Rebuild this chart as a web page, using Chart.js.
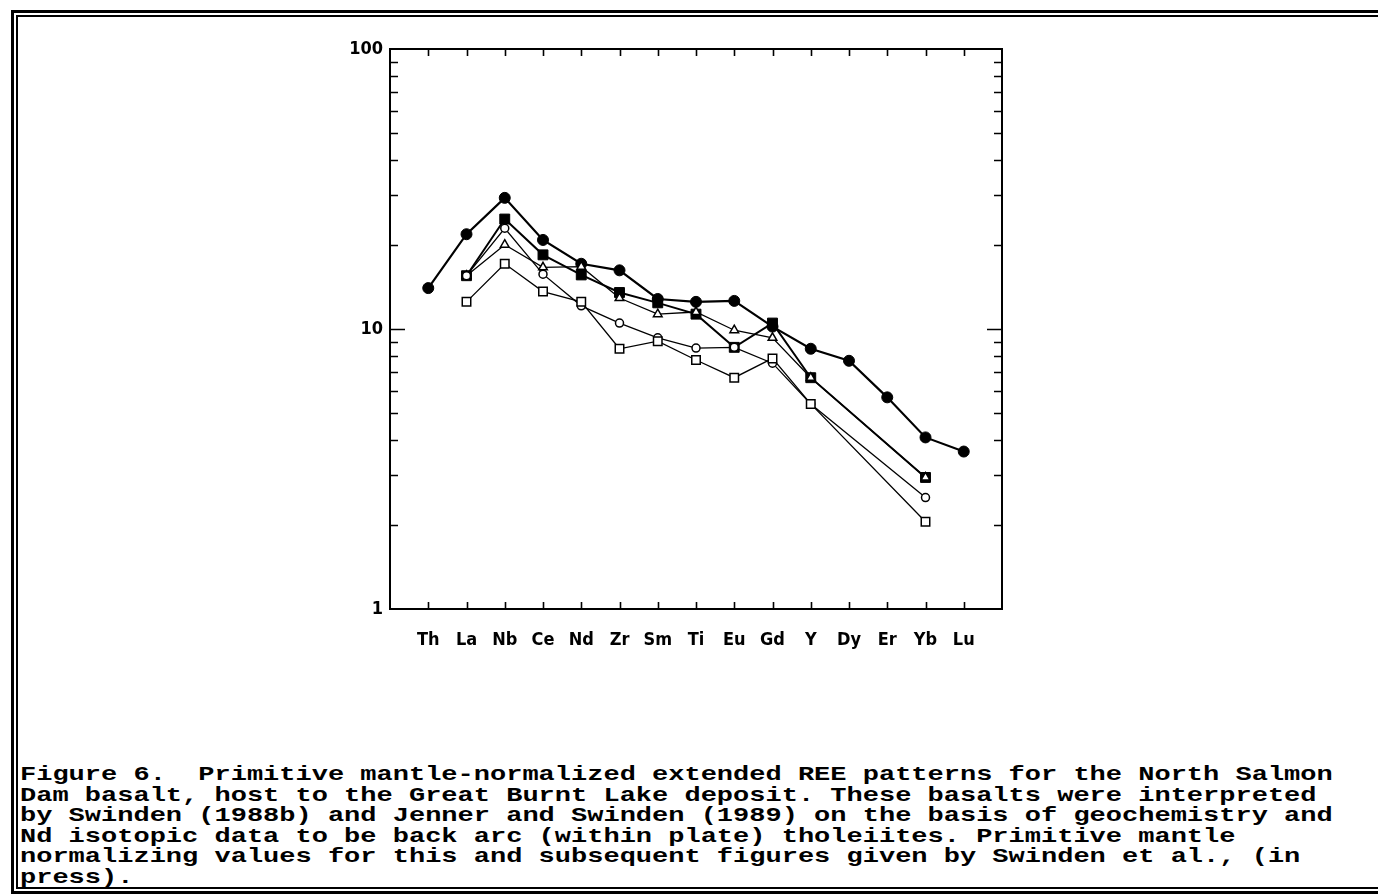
<!DOCTYPE html>
<html>
<head>
<meta charset="utf-8">
<script src="https://cdn.jsdelivr.net/npm/chart.js@4.4.1/dist/chart.umd.min.js"></script>
<style>
  html, body { margin: 0; padding: 0; background: #fff; }
  body { width: 1378px; height: 895px; position: relative; overflow: hidden; }
  #frameOuter { position: absolute; left: 11px; top: 10px; width: 1420px; height: 884px; box-sizing: border-box; border: 3px solid #000; }
  #frameInner { position: absolute; left: 16px; top: 15px; width: 1420px; height: 874px; box-sizing: border-box; border: 2px solid #000; }
  #chartBox { position: absolute; left: 0; top: 0; width: 1378px; height: 700px; }
  #caption { position: absolute; left: 20px; top: 765px; font-family: 'Liberation Mono', 'Courier New', monospace; font-weight: bold; font-size: 21px; line-height: 20.6px; white-space: pre; color: #000; transform: scaleX(1.286); transform-origin: 0 0; }
</style>
</head>
<body>
<div id="frameOuter"></div>
<div id="frameInner"></div>
<div id="chartBox"><canvas id="c"></canvas></div>
<div id="caption">Figure 6.  Primitive mantle-normalized extended REE patterns for the North Salmon
Dam basalt, host to the Great Burnt Lake deposit. These basalts were interpreted
by Swinden (1988b) and Jenner and Swinden (1989) on the basis of geochemistry and
Nd isotopic data to be back arc (within plate) tholeiites. Primitive mantle
normalizing values for this and subsequent figures given by Swinden et al., (in
press).</div>
<script>
// ---- data (primitive mantle-normalized) ----
const categories = ['Th','La','Nb','Ce','Nd','Zr','Sm','Ti','Eu','Gd','Y','Dy','Er','Yb','Lu'];
const filledCircle = [14.0, 21.8, 29.4, 20.8, 17.1, 16.2, 12.8, 12.5, 12.6, 10.2, 8.5, 7.7, 5.7, 4.1, 3.65];
const filledSquare = [null, 15.5, 24.7, 18.4, 15.6, 13.5, 12.4, 11.3, 8.6, 10.5, 6.7, null, null, 2.95, null];
const openCircle   = [null, 15.5, 22.9, 15.7, 12.1, 10.5, 9.3, 8.55, 8.6, 7.55, 5.4, null, null, 2.5, null];
const openTriangle = [null, 15.5, 20.0, 16.6, 16.7, 12.9, 11.3, 11.5, 9.9, 9.3, 6.7, null, null, 2.95, null];
const openSquare   = [null, 12.5, 17.1, 13.6, 12.5, 8.5, 9.05, 7.75, 6.7, 7.85, 5.4, null, null, 2.05, null];
const yTickLabels = [1, 10, 100];
const yMinorTicks = [2, 3, 4, 5, 6, 7, 8, 9, 20, 30, 40, 50, 60, 70, 80, 90];

function toPoints(arr) {
  return arr.map((v, i) => ({ x: i + 1, y: v }));
}

function ds(values, style, radius, lineW, pointW, filled) {
  return {
    data: toPoints(values),
    borderColor: '#000',
    backgroundColor: filled ? '#000' : '#fff',
    pointBackgroundColor: filled ? '#000' : '#fff',
    pointBorderColor: '#000',
    pointStyle: style,
    pointRadius: radius,
    pointBorderWidth: pointW,
    borderWidth: lineW,
    spanGaps: true,
    tension: 0,
    fill: false
  };
}

const axisDecor = {
  id: 'axisDecor',
  beforeDatasetsDraw(chart) {
    const { ctx, chartArea: a, scales } = chart;
    const xs = scales.x, ys = scales.y;
    ctx.save();
    ctx.strokeStyle = '#000';
    ctx.lineWidth = 2;
    ctx.strokeRect(a.left, a.top, a.right - a.left, a.bottom - a.top);
    ctx.lineWidth = 1.6;
    ctx.beginPath();
    categories.forEach((c, i) => {
      const px = Math.round(xs.getPixelForValue(i + 1)) + 0.5;
      ctx.moveTo(px, a.bottom); ctx.lineTo(px, a.bottom - 7);
      ctx.moveTo(px, a.top); ctx.lineTo(px, a.top + 7);
    });
    yMinorTicks.forEach(v => {
      const py = Math.round(ys.getPixelForValue(v)) + 0.5;
      ctx.moveTo(a.left, py); ctx.lineTo(a.left + 8, py);
      ctx.moveTo(a.right, py); ctx.lineTo(a.right - 8, py);
    });
    const p10 = Math.round(ys.getPixelForValue(10)) + 0.5;
    ctx.moveTo(a.left, p10); ctx.lineTo(a.left + 15, p10);
    ctx.moveTo(a.right, p10); ctx.lineTo(a.right - 15, p10);
    ctx.stroke();
    ctx.restore();
  }
};

const tickFont = { family: "'Liberation Sans Narrow', 'DejaVu Sans Condensed', sans-serif", size: 18, weight: 'bold' };

new Chart(document.getElementById('c'), {
  type: 'line',
  data: {
    datasets: [
      ds(openSquare, 'rect', 6, 1.3, 1.5, false),
      ds(openCircle, 'circle', 4, 1.3, 1.5, false),
      ds(openTriangle, 'triangle', 5, 1.3, 1.5, false),
      ds(filledSquare, 'rect', 7, 2, 1, true),
      ds(filledCircle, 'circle', 5.5, 2.2, 1, true)
    ]
  },
  options: {
    responsive: true,
    maintainAspectRatio: false,
    animation: false,
    devicePixelRatio: 1,
    layout: { padding: { left: 340, right: 376, top: 49, bottom: 41 } },
    plugins: { legend: { display: false }, tooltip: { enabled: false }, title: { display: false } },
    scales: {
      x: {
        type: 'linear',
        min: 0,
        max: categories.length + 1,
        grid: { display: false, drawTicks: false },
        border: { display: false },
        afterBuildTicks(scale) { scale.ticks = categories.map((c, i) => ({ value: i + 1 })); },
        afterFit(scale) { scale.height = 50; },
        ticks: {
          autoSkip: false,
          maxRotation: 0,
          padding: 21,
          color: '#000',
          font: tickFont,
          callback: (v) => categories[v - 1] || ''
        }
      },
      y: {
        type: 'logarithmic',
        min: 1,
        max: 100,
        grid: { display: false, drawTicks: false },
        border: { display: false },
        afterBuildTicks(scale) { scale.ticks = yTickLabels.map(v => ({ value: v })); },
        afterFit(scale) { scale.width = 50; },
        ticks: {
          padding: 7,
          color: '#000',
          font: tickFont,
          callback: (v) => String(v)
        }
      }
    }
  },
  plugins: [axisDecor]
});
</script>
</body>
</html>
